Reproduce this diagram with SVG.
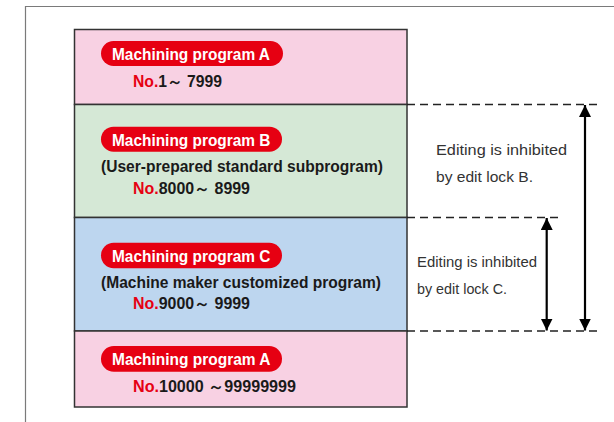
<svg xmlns="http://www.w3.org/2000/svg" width="614" height="422" viewBox="0 0 614 422">
<style>
.pill{fill:#E60012}
.pt{font-family:"Liberation Sans",Arial,sans-serif;font-weight:bold;font-size:17px;fill:#fff}
.bt{font-family:"Liberation Sans",Arial,sans-serif;font-weight:bold;font-size:16px;fill:#1a1a1a}
.red{fill:#E60012}
.nt{font-family:"Liberation Sans",Arial,sans-serif;font-size:14.5px;fill:#333}
.row{stroke:#333;stroke-width:1.5}
.dash{stroke:#222;stroke-width:1.3;stroke-dasharray:8 5;fill:none}
.arr{stroke:#000;stroke-width:2.2;fill:none;marker-start:url(#ah);marker-end:url(#ah)}
</style>
<defs>
<marker id="ah" markerUnits="userSpaceOnUse" markerWidth="12" markerHeight="12" viewBox="0 0 12 12" refX="12" refY="6" orient="auto-start-reverse">
<path d="M0,0 L12,6 L0,12 z" fill="#000"/>
</marker>
</defs>
<rect width="614" height="422" fill="#fff"/>
<path d="M25.5,422 V6.5 H614" fill="none" stroke="#7a7a7a" stroke-width="1.2"/>

<g id="rowA1">
<rect class="row" x="74.5" y="29.5" width="332.5" height="75" fill="#F8D1E3"/>
<rect class="pill" x="101" y="41" width="182" height="25" rx="12.5"/>
<text class="pt" x="112" y="59.5" textLength="158" lengthAdjust="spacingAndGlyphs">Machining program A</text>
<text class="bt" x="133" y="86.5" textLength="89" lengthAdjust="spacingAndGlyphs"><tspan class="red">No.</tspan>1～ 7999</text>
</g>

<g id="rowB">
<rect class="row" x="74.5" y="104.5" width="332.5" height="113" fill="#D5E8D6"/>
<rect class="pill" x="101" y="126.7" width="181" height="25" rx="12.5"/>
<text class="pt" x="112" y="145.5" textLength="158.5" lengthAdjust="spacingAndGlyphs">Machining program B</text>
<text class="bt" x="101" y="171.5" textLength="282" lengthAdjust="spacingAndGlyphs">(User-prepared standard subprogram)</text>
<text class="bt" x="133" y="194.3" textLength="117" lengthAdjust="spacingAndGlyphs"><tspan class="red">No.</tspan>8000～ 8999</text>
</g>

<g id="rowC">
<rect class="row" x="74.5" y="217.5" width="332.5" height="113.5" fill="#BDD6EF"/>
<rect class="pill" x="101" y="242.7" width="181" height="25.5" rx="12.7"/>
<text class="pt" x="112" y="261.7" textLength="158.5" lengthAdjust="spacingAndGlyphs">Machining program C</text>
<text class="bt" x="101" y="288.3" textLength="280" lengthAdjust="spacingAndGlyphs">(Machine maker customized program)</text>
<text class="bt" x="133" y="309.3" textLength="117" lengthAdjust="spacingAndGlyphs"><tspan class="red">No.</tspan>9000～ 9999</text>
</g>

<g id="rowA2">
<rect class="row" x="74.5" y="331" width="332.5" height="76" fill="#F8D1E3"/>
<rect class="pill" x="101" y="346" width="181" height="25.7" rx="12.8"/>
<text class="pt" x="112" y="365.2" textLength="158.5" lengthAdjust="spacingAndGlyphs">Machining program A</text>
<text class="bt" x="133" y="391.5" textLength="163" lengthAdjust="spacingAndGlyphs"><tspan class="red">No.</tspan>10000 ～99999999</text>
</g>

<g id="connectors">
<line class="dash" x1="407" y1="104.5" x2="597" y2="104.5"/>
<line class="dash" x1="407" y1="217.5" x2="558" y2="217.5"/>
<line class="dash" x1="407" y1="331" x2="597" y2="331"/>
<line class="arr" x1="585" y1="105" x2="585" y2="330.5"/>
<line class="arr" x1="546.7" y1="218" x2="546.7" y2="330.5"/>
</g>

<g id="noteB">
<text class="nt" x="436" y="155" textLength="131" lengthAdjust="spacingAndGlyphs">Editing is inhibited</text>
<text class="nt" x="436" y="181.5" textLength="97" lengthAdjust="spacingAndGlyphs">by edit lock B.</text>
</g>
<g id="noteC">
<text class="nt" x="417" y="266.5" textLength="120" lengthAdjust="spacingAndGlyphs">Editing is inhibited</text>
<text class="nt" x="417" y="293.5" textLength="90" lengthAdjust="spacingAndGlyphs">by edit lock C.</text>
</g>
</svg>
